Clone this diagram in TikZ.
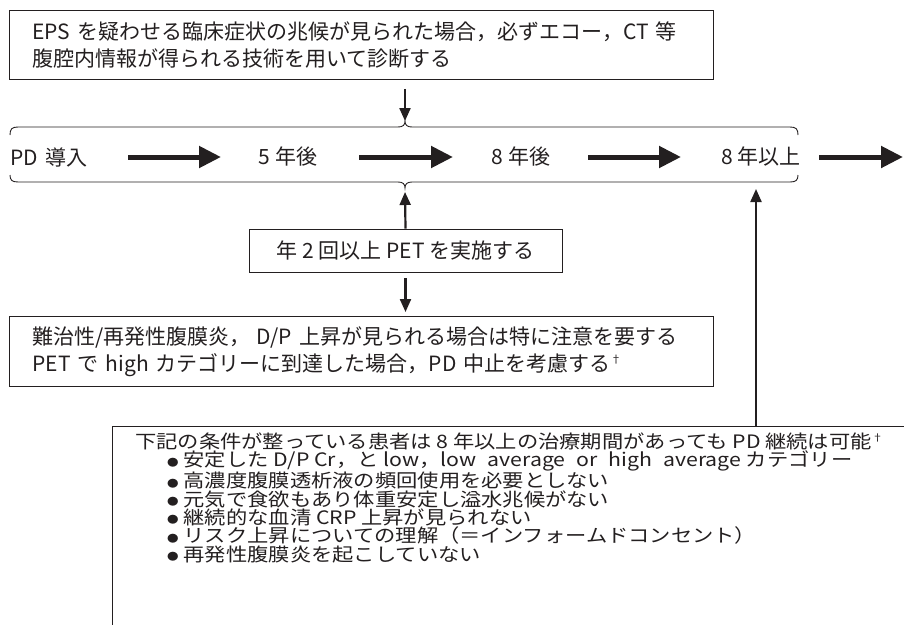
\documentclass[tikz,border=0pt]{standalone}
\usepackage{fontspec}
\setmainfont{Noto Sans CJK JP}
\newfontfamily\bigfont[FakeStretch=1.15]{Noto Sans CJK JP}
\usetikzlibrary{arrows.meta}
\definecolor{ink}{HTML}{231F20}
\newcommand{\dg}{\raisebox{8pt}{\fontsize{11}{11}\selectfont †}}
\newcommand{\dgs}{\raisebox{7pt}{\fontsize{10}{10}\selectfont †}}
\newcommand{\bul}{\hspace*{32pt}\raisebox{0.5pt}{\fontsize{10}{10}\selectfont ●}\hspace{5pt}}
\newcommand{\ws}{\hspace{11pt}}
\begin{document}
\begin{tikzpicture}[x=1pt,y=-1pt,
  font=\fontsize{21}{27}\selectfont,
  every node/.style={text=ink},
  box/.style={draw=ink, line width=0.9pt, inner xsep=23pt, inner ysep=0pt, anchor=north west},
  fat/.style={draw=ink, line width=5pt, -{Triangle[length=22pt,width=21pt]}},
  thinarrow/.style={draw=ink, line width=2.2pt, -{Triangle[length=13pt,width=11pt]}},
  brace/.style={draw=ink, line width=0.9pt},
  lab/.style={inner sep=0pt}
]
\useasboundingbox (0,0) rectangle (904,624);
\clip (0,0) rectangle (904,624);

% top box
\node[box, text width=658pt, minimum width=704pt, minimum height=69pt, align=left] (top) at (9,10)
  {\mbox{EPS を疑わせる臨床症状の兆候が見られた場合，必ずエコー，CT 等}\\
   \mbox{腹腔内情報が得られる技術を用いて診断する}};

% timeline
\node[lab] (p0) at (49,157) {PD\hspace{8pt}導入};
\node[lab] (p1) at (288,157) {5 年後};
\node[lab] (p2) at (521,157) {8 年後};
\node[lab] (p3) at (761,157) {8 年以上};
\coordinate (pend) at (903,157);
\draw[fat] ([xshift=79pt]p0.center) -- ([xshift=-67pt]p1.center);
\draw[fat] ([xshift=71pt]p1.center) -- ([xshift=-68pt]p2.center);
\draw[fat] ([xshift=67pt]p2.center) -- ([xshift=-80pt]p3.center);
\draw[fat] ([xshift=58pt]p3.center) -- (pend);

% braces
\coordinate (ctop) at (405,121);
\coordinate (cbot) at (405,188);
\draw[brace] (10,135) .. controls (10,129) and (12,127) .. (18,127) -- (398,127)
  .. controls (403,127) and (405,125) .. (ctop)
  .. controls (405,125) and (407,127) .. (412,127) -- (790,127)
  .. controls (796,127) and (798,129) .. (798,135);
\draw[brace] (10,175) .. controls (10,180) and (12,182) .. (18,182) -- (398,182)
  .. controls (403,182) and (405,184) .. (cbot)
  .. controls (405,184) and (407,182) .. (412,182) -- (790,182)
  .. controls (796,182) and (798,180) .. (798,175);

\draw[thinarrow] ([yshift=-9pt]top.south -| ctop) -- (ctop);

% PET box
\node[box, anchor=center, inner xsep=0pt, minimum width=313pt, minimum height=43pt] (pet) at (405.5,250.5)
  {年 2 回以上 PET を実施する};
\draw[thinarrow] (pet.north) -- ([yshift=-4pt]cbot);

% middle box
\node[box, text width=658pt, minimum width=704pt, minimum height=70pt, align=left] (mid) at (9,316)
  {\mbox{難治性/再発性腹膜炎，\hspace{6pt}D/P 上昇が見られる場合は特に注意を要する}\\
   \mbox{PET で high カテゴリーに到達した場合，PD 中止を考慮する\dg}};
\draw[thinarrow] ([yshift=-6pt]pet.south) -- ([yshift=4pt]pet.south |- mid.north);

% bottom box
\node[box, minimum width=900pt, minimum height=300pt, inner sep=0pt] (big) at (112,426) {};
\node[anchor=north west, align=left, inner sep=0pt, font=\bigfont\fontsize{18.5}{18.3}\selectfont] (bigtxt) at (135,432.5)
  {下記の条件が整っている患者は 8 年以上の治療期間があっても PD 継続は可能\dgs\\
   \bul 安定した D/P Cr，と low，low\ws average\ws or\ws high\ws average カテゴリー\\
   \bul 高濃度腹膜透析液の頻回使用を必要としない\\
   \bul 元気で食欲もあり体重安定し溢水兆候がない\\
   \bul 継続的な血清 CRP 上昇が見られない\\
   \bul リスク上昇についての理解（＝インフォームドコンセント）\\
   \bul 再発性腹膜炎を起こしていない};
\coordinate (c3) at (756,189);
\draw[thinarrow] (big.north -| c3) -- (c3);
\end{tikzpicture}
\end{document}
